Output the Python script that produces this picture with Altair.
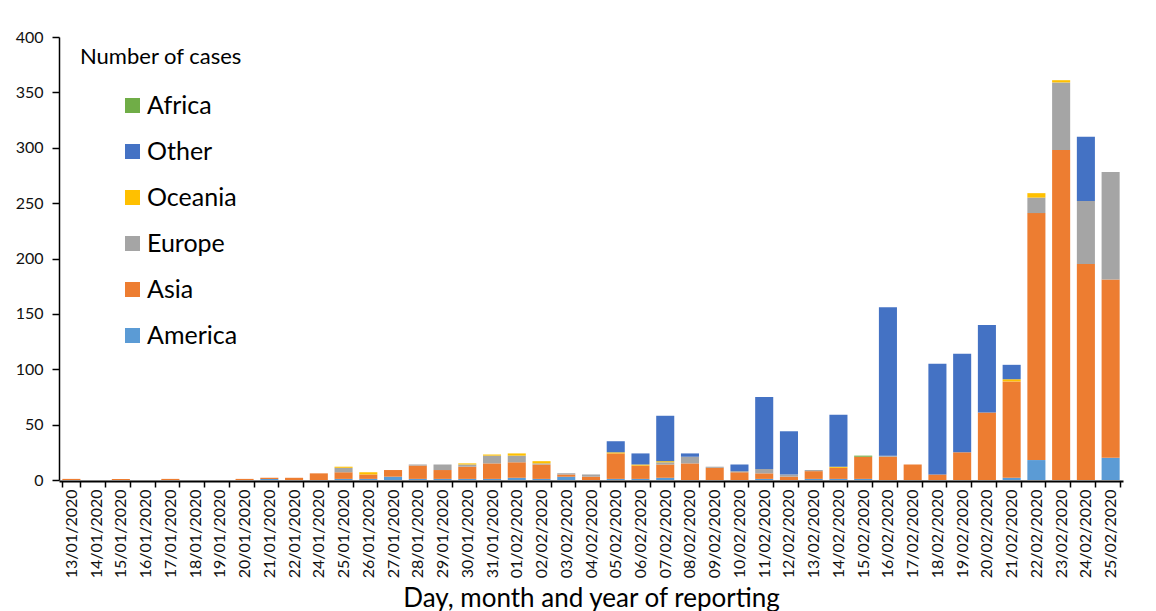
import altair as alt
import pandas as pd

dates = ["13/01/2020", "14/01/2020", "15/01/2020", "16/01/2020", "17/01/2020", "18/01/2020",
         "19/01/2020", "20/01/2020", "21/01/2020", "22/01/2020", "24/01/2020", "25/01/2020",
         "26/01/2020", "27/01/2020", "28/01/2020", "29/01/2020", "30/01/2020", "31/01/2020",
         "01/02/2020", "02/02/2020", "03/02/2020", "04/02/2020", "05/02/2020", "06/02/2020",
         "07/02/2020", "08/02/2020", "09/02/2020", "10/02/2020", "11/02/2020", "12/02/2020",
         "13/02/2020", "14/02/2020", "15/02/2020", "16/02/2020", "17/02/2020", "18/02/2020",
         "19/02/2020", "20/02/2020", "21/02/2020", "22/02/2020", "23/02/2020", "24/02/2020",
         "25/02/2020"]

america = [0, 0, 0, 0, 0, 0, 0, 0, 1, 0, 0, 1, 1, 3, 1, 1, 1, 1, 2, 1, 3, 0,
           1, 1, 2, 0, 0, 0, 1, 0, 1, 1, 1, 0, 0, 0, 0, 0, 2, 18, 0, 0, 20]
asia = [1, 0, 1, 0, 1, 0, 0, 1, 1, 2, 6, 6, 4, 6, 12, 8, 11, 14, 14, 13, 2, 3,
        23, 12, 12, 15, 11, 7, 5, 3, 7, 10, 20, 21, 14, 5, 25, 61, 87, 223, 298, 195, 161]
europe = [0, 0, 0, 0, 0, 0, 0, 0, 0, 0, 0, 4, 0, 0, 1, 5, 2, 7, 6, 1, 1, 2,
          0, 0, 2, 6, 1, 1, 4, 2, 1, 0, 0, 1, 0, 0, 0, 0, 0, 14, 61, 57, 97]
oceania = [0, 0, 0, 0, 0, 0, 0, 0, 0, 0, 0, 1, 2, 0, 0, 0, 1, 1, 2, 2, 0, 0,
           1, 1, 1, 0, 0, 0, 0, 0, 0, 1, 0, 0, 0, 0, 0, 0, 2, 4, 2, 0, 0]
other = [0, 0, 0, 0, 0, 0, 0, 0, 0, 0, 0, 0, 0, 0, 0, 0, 0, 0, 0, 0, 0, 0,
         10, 10, 41, 3, 0, 6, 65, 39, 0, 47, 0, 134, 0, 100, 89, 79, 13, 0, 0, 58, 0]
africa = [0] * 32 + [1] + [0] * 10

regions = ["America", "Asia", "Europe", "Oceania", "Other", "Africa"]
series = [america, asia, europe, oceania, other, africa]
legend_order = ["Africa", "Other", "Oceania", "Europe", "Asia", "America"]
colors = {"Africa": "#70AD47", "Other": "#4472C4", "Oceania": "#FFC000",
          "Europe": "#A5A5A5", "Asia": "#ED7D31", "America": "#5B9BD5"}

rows = []
for k, (reg, vals) in enumerate(zip(regions, series)):
    for d, v in zip(dates, vals):
        if v > 0:
            rows.append({"date": d, "region": reg, "cases": v, "stack": k})
df = pd.DataFrame(rows)

FONT = "Lato"

chart = alt.Chart(df).mark_bar().encode(
    x=alt.X("date:N", sort=dates,
            scale=alt.Scale(domain=dates, paddingInner=0.27, paddingOuter=0.135),
            axis=alt.Axis(title="Day, month and year of reporting", labelAngle=-90,
                          tickBand="extent", tickSize=6, tickColor="black", tickWidth=1.5,
                          domainColor="black", domainWidth=2, labelPadding=2, offset=1,
                          labelFontSize=16, labelColor="#111", titleFontSize=26,
                          titleFontWeight="normal", titleColor="black", titlePadding=8,
                          labelFont=FONT, titleFont=FONT)),
    y=alt.Y("cases:Q", stack="zero",
            scale=alt.Scale(domain=[0, 400]),
            axis=alt.Axis(title=None, values=list(range(0, 401, 50)), grid=False,
                          tickSize=7, tickColor="black", tickWidth=1.5,
                          domainColor="black", domainWidth=1.5, labelPadding=9,
                          labelFontSize=16, labelColor="#111", labelFont=FONT)),
    color=alt.Color("region:N",
                    scale=alt.Scale(domain=legend_order,
                                    range=[colors[r] for r in legend_order]),
                    legend=alt.Legend(title="Number of cases", orient="none",
                                      legendX=21, legendY=10, padding=0,
                                      titleFontSize=22, titleFontWeight="normal",
                                      titleColor="black", titleFont=FONT, titlePadding=24,
                                      labelFontSize=25, labelColor="black", labelFont=FONT,
                                      symbolType="square", symbolSize=225,
                                      symbolStrokeWidth=0, symbolOffset=40,
                                      rowPadding=20, labelOffset=2)),
    order=alt.Order("stack:Q", sort="ascending"),
    tooltip=["date", "region", "cases"],
).properties(
    width=1064, height=443,
    autosize=alt.AutoSizeParams(type="none"),
    padding={"left": 51, "top": 29, "right": 25, "bottom": 140},
).configure_view(stroke=None)

chart.save("out.html", embed_options={"renderer": "svg", "actions": False})
